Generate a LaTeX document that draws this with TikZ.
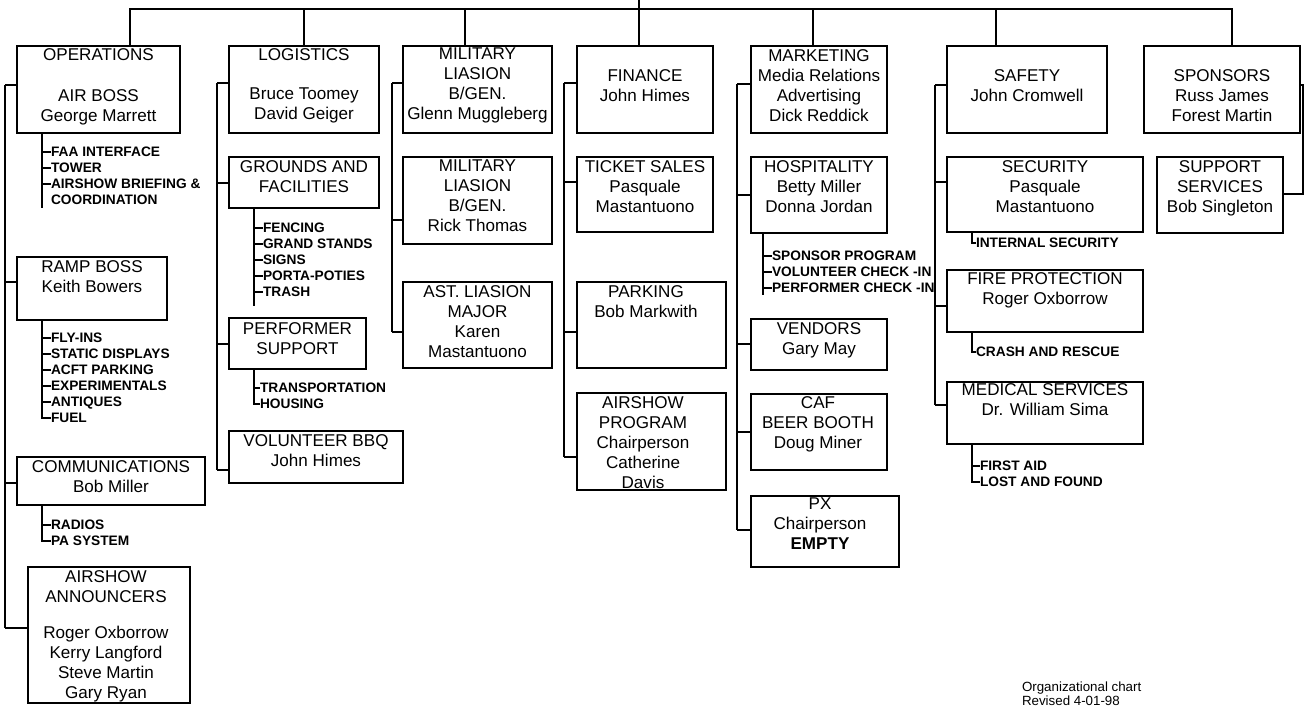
\documentclass[tikz,border=0pt]{standalone}
\usepackage{fontspec}
\setmainfont{Liberation Sans}
\begin{document}
\begin{tikzpicture}[x=0.75pt, y=-0.75pt, line width=0.8pt,
  box/.style 2 args={draw, anchor=north west, minimum width=#1*0.75pt, minimum height=#2*0.75pt},
  txt/.style={anchor=north, align=center, font=\fontsize{12.8}{15}\selectfont},
  item/.style={anchor=west, font=\fontsize{10.3}{12}\selectfont\bfseries, text height=7.4pt, text depth=0pt}]
	\tikzstyle{every node}=[inner sep=0pt, outer sep=0pt]
	\useasboundingbox (0,0) rectangle (1307,708);
	% column 1
	\node[box={163}{87}] (ops) at (17,46) {};
	\node[txt] (opst) at (98.5,48.5) {OPERATIONS\\[15.75pt]AIR BOSS\\George Marrett};
	\node[box={150}{63}] (ramp) at (17,257) {};
	\node[txt] (rampt) at (92,260.5) {RAMP BOSS\\Keith Bowers};
	\node[box={188}{48}] (comm) at (17,457) {};
	\node[txt] (commt) at (111,460.5) {COMMUNICATIONS\\Bob Miller};
	\node[box={162}{136}] (ann) at (28,567) {};
	\node[txt] (annt) at (106,570.5) {AIRSHOW\\ANNOUNCERS\\[12pt]Roger Oxborrow\\Kerry Langford\\Steve Martin\\Gary Ryan};
	% column 2
	\node[box={150}{87}] (log) at (229,46) {};
	\node[txt] (logt) at (304,48.5) {LOGISTICS\\[14.25pt]Bruce Toomey\\David Geiger};
	\node[box={150}{51}] (grounds) at (229,157) {};
	\node[txt] (groundst) at (304,160.5) {GROUNDS AND\\FACILITIES};
	\node[box={137}{51}] (perf) at (229,318) {};
	\node[txt] (perft) at (297.5,322.5) {PERFORMER\\SUPPORT};
	\node[box={174}{52}] (bbq) at (229,431) {};
	\node[txt] (bbqt) at (316,434.5) {VOLUNTEER BBQ\\John Himes};
	% column 3
	\node[box={149}{87}] (mil1) at (403,46) {};
	\node[txt] (mil1t) at (477.5,48) {MILITARY\\LIASION\\B/GEN.\\Glenn Muggleberg};
	\node[box={149}{87}] (mil2) at (403,157) {};
	\node[txt] (mil2t) at (477.5,160) {MILITARY\\LIASION\\B/GEN.\\Rick Thomas};
	\node[box={149}{86}] (ast) at (403,282) {};
	\node[txt] (astt) at (477.5,285.5) {AST. LIASION\\MAJOR\\Karen\\Mastantuono};
	% column 4
	\node[box={136}{87}] (fin) at (577,46) {};
	\node[txt] (fint) at (645,69.5) {FINANCE\\John Himes};
	\node[box={136}{75}] (ticket) at (577,157) {};
	\node[txt] (tickett) at (645,160.5) {TICKET SALES\\Pasquale\\Mastantuono};
	\node[box={149}{86}] (park) at (577,282) {};
	\node[txt] (parkt) at (646,285.5) {PARKING\\Bob Markwith};
	\node[box={149}{97}] (prog) at (577,393) {};
	\node[txt] (progt) at (643,396.5) {AIRSHOW\\PROGRAM\\Chairperson\\Catherine\\Davis};
	% column 5
	\node[box={136}{87}] (mkt) at (751,46) {};
	\node[txt] (mktt) at (819,49.5) {MARKETING\\Media Relations\\Advertising\\Dick Reddick};
	\node[box={136}{76}] (hosp) at (751,157) {};
	\node[txt] (hospt) at (819,160.5) {HOSPITALITY\\Betty Miller\\Donna Jordan};
	\node[box={136}{51}] (vend) at (751,319) {};
	\node[txt] (vendt) at (819,322.5) {VENDORS\\Gary May};
	\node[box={136}{76}] (caf) at (751,394) {};
	\node[txt] (caft) at (818,396.5) {CAF\\BEER BOOTH\\Doug Miner};
	\node[box={148}{71}] (px) at (751,496) {};
	\node[txt] (pxt) at (820,497.5) {PX\\Chairperson\\\textbf{EMPTY}};
	% column 6 and 7
	\node[box={160}{87}] (safety) at (947,46) {};
	\node[txt] (safetyt) at (1027,69.5) {SAFETY\\John Cromwell};
	\node[box={196}{75}] (sec) at (947,157) {};
	\node[txt] (sect) at (1045,160.5) {SECURITY\\Pasquale\\Mastantuono};
	\node[box={196}{62}] (fire) at (947,270) {};
	\node[txt] (firet) at (1045,272.5) {FIRE PROTECTION\\Roger Oxborrow};
	\node[box={196}{62}] (med) at (947,382) {};
	\node[txt] (medt) at (1045,383.5) {MEDICAL SERVICES\\Dr. William Sima};
	\node[box={156}{87}] (spons) at (1144,46) {};
	\node[txt] (sponst) at (1222,69.5) {SPONSORS\\Russ James\\Forest Martin};
	\node[box={126}{76}] (supp) at (1157,157) {};
	\node[txt] (suppt) at (1220,160.5) {SUPPORT\\SERVICES\\Bob Singleton};
	% top bus
	\coordinate (riser) at (639,0);
	\coordinate (bus) at (639,9);
	\draw (riser) -- (bus);
	\draw (ops.north -| 130,0) |- (bus) -| (spons.north -| 1232,0);
	\foreach \b/\x in {log/304, mil1/465, fin/639, mkt/813, safety/996}
		\draw (\x,9) -- (\b.north -| \x,0);
	% column rails
	\draw (5,85) -- (5,628);
	\foreach \b/\y in {ops/85, ramp/282, comm/483, ann/628} \draw (5,\y) -- (\b.west |- 0,\y);
	\draw (217,83) -- (217,470);
	\foreach \b/\y in {log/83, grounds/183, perf/344, bbq/470} \draw (217,\y) -- (\b.west |- 0,\y);
	\draw (392,83) -- (392,332);
	\foreach \b/\y in {mil1/83, mil2/220, ast/332} \draw (392,\y) -- (\b.west |- 0,\y);
	\draw (564,83) -- (564,457);
	\foreach \b/\y in {fin/83, ticket/182, park/332, prog/457} \draw (564,\y) -- (\b.west |- 0,\y);
	\draw (737,84) -- (737,530);
	\foreach \b/\y in {mkt/84, hosp/195, vend/344, caf/432, px/530} \draw (737,\y) -- (\b.west |- 0,\y);
	\draw (935,85) -- (935,405);
	\foreach \b/\y in {safety/85, sec/182, fire/306, med/405} \draw (935,\y) -- (\b.west |- 0,\y);
	\draw (spons.east |- 0,85) -| (1303,194) -- (supp.east |- 0,194);
	% task lists
	\foreach \t [count=\i] in {FAA INTERFACE, TOWER, AIRSHOW BRIEFING \&, COORDINATION}
		\node[item] (ops-i\i) at (51,136+16*\i) {\t};
	\draw (ops.south -| 42,0) -- (42,208);
	\foreach \i in {1,2,3} \draw (42,136+16*\i) -- (ops-i\i.west);
	\foreach \t [count=\i] in {FLY-INS, STATIC DISPLAYS, ACFT PARKING, EXPERIMENTALS, ANTIQUES, FUEL}
		\node[item] (ramp-i\i) at (51,322+16*\i) {\t};
	\draw (ramp.south -| 42,0) |- (ramp-i6.west);
	\foreach \i in {1,...,5} \draw (42,322+16*\i) -- (ramp-i\i.west);
	\foreach \t [count=\i] in {RADIOS, PA SYSTEM}
		\node[item] (comm-i\i) at (51,509+16*\i) {\t};
	\draw (comm.south -| 42,0) |- (comm-i2.west);
	\draw (42,525) -- (comm-i1.west);
	\foreach \t [count=\i] in {FENCING, GRAND STANDS, SIGNS, PORTA-POTIES, TRASH}
		\node[item] (grounds-i\i) at (263,212+16*\i) {\t};
	\draw (grounds.south -| 254,0) -- (254,306);
	\foreach \i in {1,...,5} \draw (254,212+16*\i) -- (grounds-i\i.west);
	\foreach \t [count=\i] in {TRANSPORTATION, HOUSING}
		\node[item] (perf-i\i) at (260,372+16*\i) {\t};
	\draw (perf.south -| 254,0) |- (perf-i2.west);
	\draw (254,388) -- (perf-i1.west);
	\foreach \t [count=\i] in {SPONSOR PROGRAM, VOLUNTEER CHECK -IN, PERFORMER CHECK -IN}
		\node[item] (hosp-i\i) at (772,240+16*\i) {\t};
	\draw (hosp.south -| 763,0) -- (763,295);
	\foreach \i in {1,2,3} \draw (763,240+16*\i) -- (hosp-i\i.west);
	\node[item] (sec-i1) at (976,243) {INTERNAL SECURITY};
	\draw (sec.south -| 972,0) |- (sec-i1.west);
	\node[item] (fire-i1) at (976,352) {CRASH AND RESCUE};
	\draw (fire.south -| 972,0) |- (fire-i1.west);
	\foreach \t [count=\i] in {FIRST AID, LOST AND FOUND}
		\node[item] (med-i\i) at (980,450+16*\i) {\t};
	\draw (med.south -| 972,0) |- (med-i2.west);
	\draw (972,466) -- (med-i1.west);
	% footer
	\node[anchor=north west, align=left, font=\fontsize{10}{10}\selectfont] (note) at (1022,682) {Organizational chart\\Revised 4-01-98};
\end{tikzpicture}
\end{document}
